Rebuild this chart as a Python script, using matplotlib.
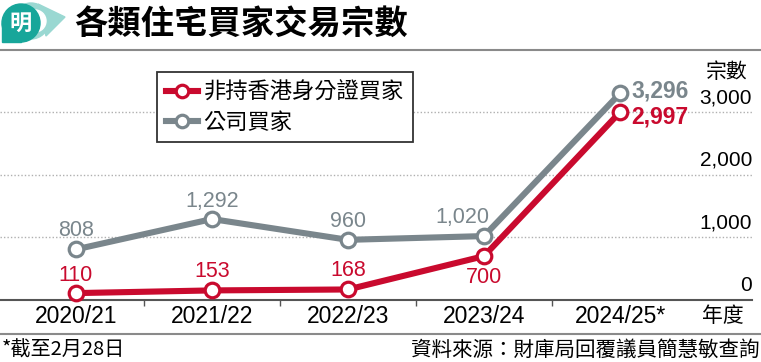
import matplotlib
matplotlib.use("Agg")
import matplotlib.pyplot as plt
from matplotlib.patches import Circle, Rectangle, Polygon
from matplotlib.lines import Line2D
import matplotlib.transforms as mtransforms
import numpy as np

# ---------------- data ----------------
years = ["2020/21", "2021/22", "2022/23", "2023/24", "2024/25*"]
non_hkid_buyers = [110, 153, 168, 700, 2997]
company_buyers = [808, 1292, 960, 1020, 3296]
series_names = ["非持香港身分證買家", "公司買家"]
y_ticks = [0, 1000, 2000, 3000]
title = "各類住宅買家交易宗數"
y_unit = "宗數"
x_unit = "年度"
footnote = "*截至2月28日"
source = "資料來源：財庫局回覆議員簡慧敏查詢"

# ---------------- style ----------------
RED = "#c90a2e"
GRAY = "#7a868c"
W, H = 761, 362
CJK = ["Noto Sans CJK TC", "DejaVu Sans"]
NUM = ["Liberation Sans", "DejaVu Sans"]

fig = plt.figure(figsize=(W / 100, H / 100), dpi=100)

# background/overlay axes in pixel coordinates
bg = fig.add_axes([0, 0, 1, 1], zorder=0)
bg.set_xlim(0, W)
bg.set_ylim(H, 0)
bg.axis("off")

# logo
bg.add_patch(Circle((31, 21), 18, color="#9ad8d2", zorder=1))
bg.add_patch(Polygon([(38, 4), (65, 17), (46, 36)], closed=True, color="#9ad8d2", zorder=1))
bg.add_patch(Circle((35, 21), 11, color="white", zorder=2))
bg.add_patch(Circle((21, 23), 19, color="#17a69a", zorder=3))
bg.add_patch(Rectangle((2, 23), 19, 19, color="#17a69a", zorder=3))
bg.text(21, 23, "明", color="white", fontsize=16, fontweight="bold",
        family=CJK, ha="center", va="center", zorder=4)

# title
bg.text(74, 24, title, fontsize=24, fontweight="bold", family=CJK,
        ha="left", va="center", color="black")
# rules
bg.plot([0, W], [50, 50], color="#8a8a8a", lw=1.5, solid_capstyle="butt")
bg.plot([0, W], [334, 334], color="#8a8a8a", lw=1.5, solid_capstyle="butt")
# footer
bg.text(2, 350, footnote, fontsize=14.5, family=CJK, ha="left", va="center", color="black")
bg.text(759, 350, source, fontsize=14.8, family=CJK, ha="right", va="center", color="black")
# unit labels
bg.text(748, 72, y_unit, fontsize=15, family=CJK, ha="right", va="center", color="black")
bg.text(744, 316, x_unit, fontsize=15, family=CJK, ha="right", va="center", color="black")

# ---------------- main axes ----------------
px_per_unit = (300 - 112) / 3000
ymax = 3900
ax_h = ymax * px_per_unit
ax = fig.add_axes([0, (H - 300) / H, 752 / W, ax_h / H], zorder=2)
ax.patch.set_alpha(0)
x = np.arange(len(years))
ax.set_xlim(-76 / 136, (752 - 76) / 136)
ax.set_ylim(0, ymax)

for s in ["top", "right", "left"]:
    ax.spines[s].set_visible(False)
ax.spines["bottom"].set_color("#555555")
ax.spines["bottom"].set_linewidth(1.5)

ax.set_yticks([])
ax.set_xticks(x)
ax.set_xticklabels(years, fontsize=16.5, family=NUM)
ax.tick_params(axis="x", which="major", length=0, pad=3.5)
ax.set_xticks(x[:-1] + 0.5, minor=True)
ax.tick_params(axis="x", which="minor", length=4, width=1, color="#555555", direction="out")

# gridlines + y labels
ytrans = mtransforms.blended_transform_factory(ax.transAxes, ax.transData)
for t in y_ticks:
    if t > 0:
        ax.axhline(t, color="#b0b0b0", lw=1, ls=(0, (1, 1.5)), zorder=0)
    ax.annotate(f"{t:,}", xy=(1.0, t), xycoords=ytrans, xytext=(0, 5),
                textcoords="offset pixels", ha="right", va="bottom",
                fontsize=15, family=NUM, color="black")

lw = 4.4
ms = 10.5
ax.plot(x, company_buyers, color=GRAY, lw=lw, marker="o", ms=ms, mfc="white",
        mec=GRAY, mew=2.3, zorder=3, clip_on=False, solid_joinstyle="round")
ax.plot(x, non_hkid_buyers, color=RED, lw=lw, marker="o", ms=ms, mfc="white",
        mec=RED, mew=2.3, zorder=4, clip_on=False, solid_joinstyle="round")

# data labels (offsets in pixels, positive = up)
gray_off = [(0, 19, "center", False), (0, 18, "center", False), (0, 18, "center", False),
            (-22, 19, "center", False), (11, 2, "left", True)]
red_off = [(0, 18, "center", False), (0, 19, "center", False), (0, 19, "center", False),
           (0, -21, "center", False), (11, -5, "left", True)]
for vals, offs, col in [(company_buyers, gray_off, GRAY), (non_hkid_buyers, red_off, RED)]:
    for xi, v, (dx, dy, ha, bold) in zip(x, vals, offs):
        ax.annotate(f"{v:,}", xy=(xi, v), xytext=(dx, dy), textcoords="offset pixels",
                    ha=ha, va="center", fontsize=16.5 if bold else 15.5,
                    fontweight="bold" if bold else "normal", family=NUM, color=col,
                    zorder=5)

# legend
handles = [Line2D([], [], color=RED, lw=lw, marker="o", ms=9, mfc="white", mec=RED, mew=2.3),
           Line2D([], [], color=GRAY, lw=lw, marker="o", ms=9, mfc="white", mec=GRAY, mew=2.3)]
leg = ax.legend(handles, series_names, loc="upper left",
                bbox_to_anchor=(157 / W, 1 - 72 / H), bbox_transform=fig.transFigure,
                borderaxespad=0, frameon=True, fancybox=False, prop={"family": CJK, "size": 16},
                handlelength=1.45, handletextpad=0.25, labelspacing=0.3, borderpad=0.4)
leg.get_frame().set_edgecolor("#333333")
leg.get_frame().set_linewidth(1.3)
leg.get_frame().set_facecolor("white")
leg.get_frame().set_alpha(1)
leg.set_zorder(6)

fig.savefig("out.png", dpi=100)
